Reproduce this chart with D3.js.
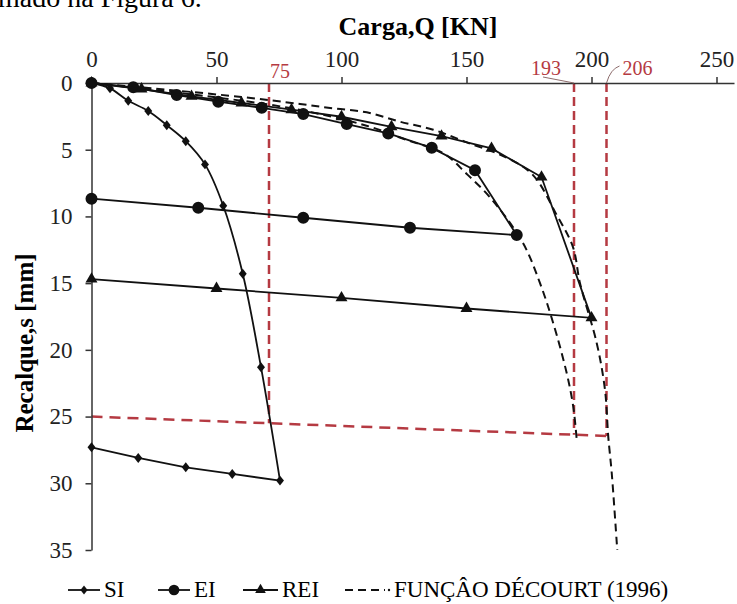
<!DOCTYPE html>
<html>
<head>
<meta charset="utf-8">
<script src="https://cdn.jsdelivr.net/npm/d3@7"></script>
<style>
  body { margin: 0; background: #fff; }
  svg { display: block; font-family: "Liberation Serif", "Times New Roman", serif; }
</style>
</head>
<body>
<script>
// values: Q = carga [kN], s = recalque [mm]
var siQ = [0, 7.4, 14.7, 22.7, 30.1, 37.7, 45.4, 52.7, 60.5, 67.8, 75.4, 56.3, 37.7, 18.7, 0];
var siS = [0, 0.4, 1.33, 2.1, 3.16, 4.36, 6.1, 9.2, 14.3, 21.3, 29.8, 29.3, 28.8, 28.1, 27.3];

var eiQ = [0, 16.7, 34.1, 50.7, 68.1, 84.7, 102.1, 118.7, 136.1, 153.4, 170.1, 127.4, 84.7, 42.7, 0];
var eiS = [0, 0.32, 0.9, 1.4, 1.86, 2.33, 3.08, 3.78, 4.86, 6.54, 11.4, 10.85, 10.1, 9.35, 8.67];

var reiQ = [0, 20, 40, 60, 80, 100, 120, 140, 160, 180, 200, 150, 100, 50, 0];
var reiS = [0, 0.45, 1.0, 1.5, 2.0, 2.53, 3.28, 3.98, 4.9, 7.05, 17.6, 16.9, 16.1, 15.4, 14.7];

// Décourt (1996) extrapolations, one for EI and one for REI
var decEiQ = [0, 40, 80, 110, 125, 141, 150, 160, 172.6, 179.4, 184.7, 190.1, 192.7, 194.1];
var decEiS = [0, 0.85, 1.9, 3.2, 4.2, 5.3, 6.8, 8.7, 12.0, 15.0, 18.0, 21.76, 24.26, 26.75];

var decReiQ = [0, 30, 60, 83.4, 96.6, 110.1, 123.4, 136.7, 150.1, 166.1, 176.6, 186.1, 192.6, 195.4, 202.1, 205.4, 206.7, 208.1, 210.3];
var decReiS = [0, 0.5, 1.05, 1.57, 1.9, 2.2, 2.9, 3.5, 4.45, 5.6, 6.9, 9.9, 12.3, 15.0, 19.5, 23.0, 26.5, 29.25, 35];

// red reference lines
var refQ = [71, 193, 206];
var refLabels = ['75', '193', '206'];
var refLineQ = [0, 206];
var refLineS = [25, 26.45];

var xTicks = [0, 50, 100, 150, 200, 250];
var yTicks = [0, 5, 10, 15, 20, 25, 30, 35];

var legendNames = ['SI', 'EI', 'REI', 'FUNÇÂO DÉCOURT (1996)'];

var width = 737, height = 604;
var red = '#b53a42';
var serif = '"Liberation Serif", "Times New Roman", serif';

var svg = d3.select('body').append('svg')
  .attr('width', width)
  .attr('height', height);

var x = d3.scaleLinear().domain([0, 257]).range([91.5, 734]);
var y = d3.scaleLinear().domain([0, 35]).range([83, 550]);

// cut-off text from the page above the figure
svg.append('text')
  .attr('x', -2).attr('y', 7)
  .attr('font-size', 28)
  .text('mado na Figura 6.');

var line = d3.line()
  .x(function(d){ return x(d[0]); })
  .y(function(d){ return y(d[1]); });

// red dashed guides
var refS = refQ.map(function(q){
  return refLineS[0] + (refLineS[1] - refLineS[0]) * q / refLineQ[1];
});
svg.selectAll('.refv')
  .data(refQ)
  .enter()
  .append('line')
  .attr('x1', function(d){ return x(d); })
  .attr('x2', function(d){ return x(d); })
  .attr('y1', y(0))
  .attr('y2', function(d, i){ return y(refS[i]); })
  .attr('stroke', red)
  .attr('stroke-width', 2.5)
  .attr('stroke-dasharray', '9,5');

svg.append('path')
  .attr('d', line(d3.zip(refLineQ, refLineS)))
  .attr('fill', 'none')
  .attr('stroke', red)
  .attr('stroke-width', 2.5)
  .attr('stroke-dasharray', '11,7');

// axes
var xAxis = svg.append('g')
  .attr('transform', 'translate(0,' + y(0) + ')')
  .call(d3.axisTop(x).tickValues(xTicks).tickSize(6).tickSizeOuter(0).tickPadding(10));
var yAxis = svg.append('g')
  .attr('transform', 'translate(' + x(0) + ',0)')
  .call(d3.axisLeft(y).tickValues(yTicks).tickSize(6).tickSizeOuter(0).tickPadding(13));

[xAxis, yAxis].forEach(function(g){
  g.attr('font-family', serif).attr('font-size', 23);
  g.selectAll('text').attr('fill', '#222').attr('font-family', serif);
  g.selectAll('path, line').attr('stroke', '#333').attr('stroke-width', 1.5);
});

svg.append('text')
  .attr('x', 418).attr('y', 35)
  .attr('text-anchor', 'middle')
  .attr('font-size', 26)
  .attr('font-weight', 'bold')
  .text('Carga,Q [KN]');

svg.append('text')
  .attr('transform', 'translate(33,343) rotate(-90)')
  .attr('text-anchor', 'middle')
  .attr('font-size', 25)
  .attr('font-weight', 'bold')
  .text('Recalque,s [mm]');

// reference labels
svg.append('text')
  .attr('x', x(refQ[0]) + 1).attr('y', y(0) - 5)
  .attr('font-size', 20).attr('fill', red)
  .text(refLabels[0]);
svg.append('text')
  .attr('x', x(refQ[1]) - 13).attr('y', y(0) - 8)
  .attr('text-anchor', 'end')
  .attr('font-size', 20).attr('fill', red)
  .text(refLabels[1]);
svg.append('text')
  .attr('x', x(refQ[2]) + 16).attr('y', y(0) - 8)
  .attr('font-size', 20).attr('fill', red)
  .text(refLabels[2]);
svg.append('line')
  .attr('x1', x(refQ[1]) - 31).attr('y1', y(0) - 6)
  .attr('x2', x(refQ[1])).attr('y2', y(0))
  .attr('stroke', '#8c6b6b').attr('stroke-width', 1);
svg.append('path')
  .attr('d', 'M' + (x(refQ[2]) + 13) + ',' + (y(0) - 17) + 'Q' + (x(refQ[2]) + 4) + ',' + (y(0) - 14) + ' ' + x(refQ[2]) + ',' + y(0))
  .attr('fill', 'none')
  .attr('stroke', '#8c6b6b').attr('stroke-width', 1);

// Décourt curves
var smooth = d3.line()
  .x(function(d){ return x(d[0]); })
  .y(function(d){ return y(d[1]); })
  .curve(d3.curveCatmullRom.alpha(0.5));

[[decEiQ, decEiS], [decReiQ, decReiS]].forEach(function(c){
  svg.append('path')
    .attr('d', smooth(d3.zip(c[0], c[1])))
    .attr('fill', 'none')
    .attr('stroke', '#111')
    .attr('stroke-width', 2)
    .attr('stroke-dasharray', '8,5');
});

// measured series
var diamond = {
  draw: function(ctx, size){
    var h = Math.sqrt(size) * 0.75, w = h * 0.8;
    ctx.moveTo(0, -h); ctx.lineTo(w, 0); ctx.lineTo(0, h); ctx.lineTo(-w, 0); ctx.closePath();
  }
};

var series = [
  { q: siQ, s: siS, sym: diamond, size: 44, smoothLoad: true },
  { q: eiQ, s: eiS, sym: d3.symbolCircle, size: 113, smoothLoad: false },
  { q: reiQ, s: reiS, sym: d3.symbolTriangle, size: 62, smoothLoad: false }
];

series.forEach(function(sr){
  var pts = d3.zip(sr.q, sr.s);
  var peak = d3.maxIndex(sr.s);
  if (sr.smoothLoad) {
    // loading branch drawn smoothed, unloading branch straight
    svg.append('path')
      .attr('d', smooth(pts.slice(0, peak + 1)))
      .attr('fill', 'none')
      .attr('stroke', '#111')
      .attr('stroke-width', 1.8);
    svg.append('path')
      .attr('d', line(pts.slice(peak)))
      .attr('fill', 'none')
      .attr('stroke', '#111')
      .attr('stroke-width', 1.8);
  } else {
    svg.append('path')
      .attr('d', line(pts))
      .attr('fill', 'none')
      .attr('stroke', '#111')
      .attr('stroke-width', 1.8);
  }
  svg.selectAll(null)
    .data(pts)
    .enter()
    .append('path')
    .attr('d', d3.symbol().type(sr.sym).size(sr.size))
    .attr('transform', function(d){ return 'translate(' + x(d[0]) + ',' + y(d[1]) + ')'; })
    .attr('fill', '#111');
});

// legend
var legX = [68, 158, 243, 345];
var legW = [32, 32, 35, 40];
var legY = 590;
legendNames.forEach(function(name, i){
  var g = svg.append('g');
  g.append('line')
    .attr('x1', legX[i]).attr('x2', legX[i] + legW[i])
    .attr('y1', legY).attr('y2', legY)
    .attr('stroke', '#111')
    .attr('stroke-width', i === 3 ? 2 : 1.8)
    .attr('stroke-dasharray', i === 3 ? '8,5' : null);
  if (i < 3) {
    g.append('path')
      .attr('d', d3.symbol().type(series[i].sym).size(series[i].size * 0.8))
      .attr('transform', 'translate(' + (legX[i] + legW[i] / 2) + ',' + legY + ')')
      .attr('fill', '#111');
  } else {
    g.append('circle')
      .attr('cx', legX[i] + legW[i] + 4).attr('cy', legY).attr('r', 1.2)
      .attr('fill', '#111');
  }
  g.append('text')
    .attr('x', legX[i] + legW[i] + (i === 3 ? 9 : 4))
    .attr('y', legY + 7)
    .attr('font-size', 23)
    .text(name);
});
</script>
</body>
</html>
